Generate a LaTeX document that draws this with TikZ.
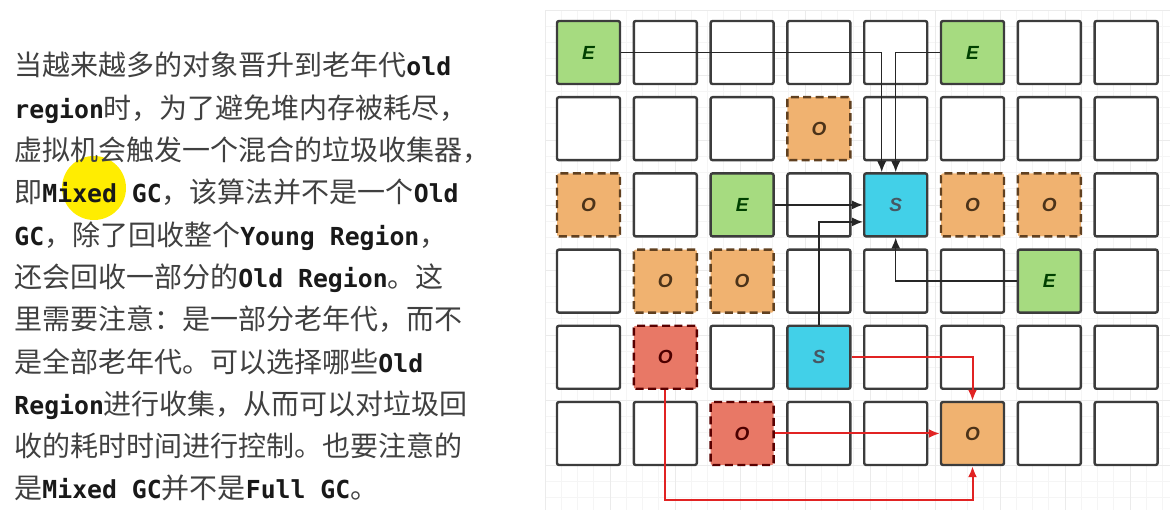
\documentclass[tikz,border=0pt]{standalone}
\usepackage{fontspec}
\usepackage{xcolor}
\usetikzlibrary{arrows.meta, positioning}

\newfontfamily\cjk{Noto Sans CJK SC}
\newfontfamily\codefont{DejaVu Sans Mono}
\newfontfamily\cellfont{Liberation Sans}
\newcommand{\code}[1]{{\codefont\bfseries\fontsize{12.4}{21}\selectfont\color{black!90}#1}}

\definecolor{eden}{RGB}{166,219,128}
\definecolor{old}{RGB}{240,178,112}
\definecolor{oldred}{RGB}{232,120,102}
\definecolor{surv}{RGB}{66,208,232}
\definecolor{cellline}{RGB}{60,60,60}
\definecolor{arrred}{RGB}{225,35,35}

\begin{document}
\begin{tikzpicture}[x=0.5pt, y=-0.5pt, >={Latex[length=5.5pt,width=4.5pt]}]
	\tikzstyle{cell} = [draw=cellline, line width=1.2pt, fill=white, rounded corners=1pt, minimum size=31.5pt, inner sep=0pt, font=\cellfont\bfseries\itshape\fontsize{9.5}{9.5}\selectfont]
	\tikzstyle{ecell} = [cell, fill=eden, text=green!25!black]
	\tikzstyle{scell} = [cell, fill=surv, text=cyan!30!black]
	\tikzstyle{ocell} = [cell, fill=old, dashed, dash pattern=on 4pt off 2.2pt, draw=brown!50!black, text=brown!40!black]
	\tikzstyle{rcell} = [cell, fill=oldred, dashed, dash pattern=on 4pt off 2.2pt, draw=red!35!black, text=red!30!black]
	\tikzstyle{line} = [font=\cjk\fontsize{14}{21}\selectfont, text=black!75, inner sep=0pt, anchor=base west]
	\tikzstyle{black arrow} = [->, line width=0.75pt, draw=black!85]
	\tikzstyle{red arrow} = [line width=1pt, draw=arrred, arrows={-Latex[length=5.5pt,width=4.5pt,color=arrred]}]

	\useasboundingbox (0,0) rectangle (1172,528);

	% background grid
	\foreach \gx in {0,...,38}
		\draw[black!4, line width=0.3pt] ({545+16.25*\gx},10) -- ({545+16.25*\gx},510);
	\foreach \gy in {0,...,30}
		\draw[black!4, line width=0.3pt] (545,{10+16.25*\gy}) -- (1170,{10+16.25*\gy});
	\foreach \gx in {0,...,9}
		\draw[black!8, line width=0.4pt] ({545+65*\gx},10) -- ({545+65*\gx},510);
	\foreach \gy in {0,...,7}
		\draw[black!8, line width=0.4pt] (545,{10+65*\gy}) -- (1170,{10+65*\gy});

	% highlight
	\fill[yellow!95!orange] (94,188) circle (32);

	% text
	\foreach \t [count=\i] in {
		当越来越多的对象晋升到老年代\code{old},
		\code{region}时，为了避免堆内存被耗尽，,
		虚拟机会触发一个混合的垃圾收集器，,
		即\code{Mixed GC}，该算法并不是一个\code{Old},
		\code{GC}，除了回收整个\code{Young Region}，,
		还会回收一部分的\code{Old Region}。这,
		里需要注意：是一部分老年代，而不,
		是全部老年代。可以选择哪些\code{Old},
		\code{Region}进行收集，从而可以对垃圾回,
		收的耗时时间进行控制。也要注意的,
		是\code{Mixed GC}并不是\code{Full GC}。}
		\node[line] (l\i) at (14, {76+42.3*(\i-1)}) {\t};

	% empty regions
	\foreach \r/\cols in {0/{1,2,3,4,6,7}, 1/{0,1,2,4,5,6,7}, 2/{1,3,7}, 3/{0,3,4,5,7}, 4/{0,2,4,5,6,7}, 5/{0,1,3,4,6,7}}
		\foreach \c in \cols
			\node[cell] (c\r\c) at ({588.5+76.8*\c}, {52.5+76.2*\r}) {};

	% regions in use
	\node[ecell] at (588.5, 52.5)   (e1) {E};
	\node[ecell] at (972.5, 52.5)   (e2) {E};
	\node[ocell] at (818.9, 128.7)  (o1) {O};
	\node[ocell] at (588.5, 204.9)  (o2) {O};
	\node[ecell] at (742.1, 204.9)  (e3) {E};
	\node[scell] at (895.7, 204.9)  (s1) {S};
	\node[ocell] at (972.5, 204.9)  (o3) {O};
	\node[ocell] at (1049.3, 204.9) (o4) {O};
	\node[ocell] at (665.3, 281.1)  (o5) {O};
	\node[ocell] at (742.1, 281.1)  (o6) {O};
	\node[ecell] at (1049.3, 281.1) (e4) {E};
	\node[rcell] at (665.3, 357.3)  (r1) {O};
	\node[scell] at (818.9, 357.3)  (s2) {S};
	\node[rcell] at (742.1, 433.5)  (r2) {O};
	\node[cell, fill=old, text=brown!40!black] at (972.5, 433.5) (o7) {O};

	% copying to survivor
	\draw[black arrow] (e1.east) -| ([xshift=-7pt]s1.north);
	\draw[black arrow] (e2.west) -| (s1.north);
	\draw[black arrow] (e3.east) -- (s1.west);
	\draw[black arrow] (s2.north) |- ([yshift=-8.5pt]s1.west);
	\draw[black arrow] (e4.west) -| (s1.south);

	% mixed collection into old
	\draw[red arrow] (s2.east) -| (o7.north);
	\draw[red arrow] (r2.east) -- (o7.west);
	\draw[red arrow] (r1.south) -- ++(0,110) -| (o7.south);
\end{tikzpicture}
\end{document}
